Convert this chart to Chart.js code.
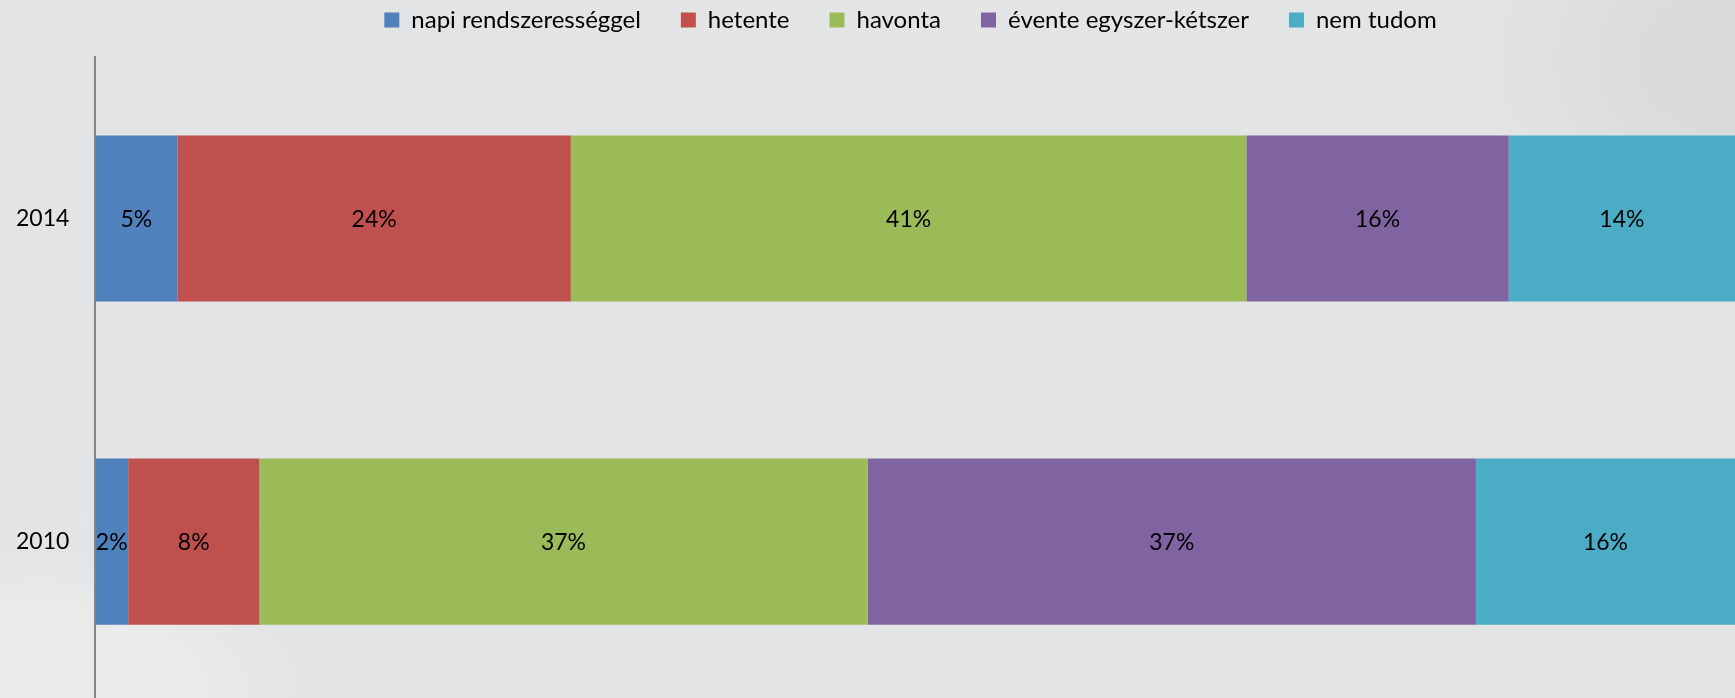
<!DOCTYPE html>
<html>
<head>
<meta charset="utf-8">
<script src="https://cdn.jsdelivr.net/npm/chart.js@4.4.1/dist/chart.umd.min.js"></script>
<style>
    html, body { margin: 0; padding: 0; overflow: hidden; }
    body {
        background:
            radial-gradient(ellipse 260px 150px at 40px 700px, #ebebeb 55%, rgba(235,235,235,0) 100%),
            radial-gradient(ellipse 1000px 160px at 380px 520px, #eaeaea 10%, rgba(234,234,234,0) 30%),
            radial-gradient(ellipse 260px 200px at 1735px 60px, #d9dadc 30%, rgba(217,218,220,0) 100%),
            #e3e4e6;
    }
    #wrap { width: 1735px; height: 743px; position: relative; }
</style>
</head>
<body>
<div id="wrap"><canvas id="gyakorisag"></canvas></div>
<script>
const evek = ['2014', '2010'];
const napi = [5, 2];
const hetente = [24, 8];
const havonta = [41.2, 37.1];
const evente = [16, 37.1];
const nemTudom = [13.8, 15.8];

// szazalek feliratok a savok kozepere
const savFelirat = {
    id: 'savFelirat',
    afterDatasetsDraw(chart) {
        const ctx = chart.ctx;
        ctx.save();
        ctx.font = '23px Lato';
        ctx.fillStyle = '#000';
        ctx.textAlign = 'center';
        ctx.textBaseline = 'middle';
        chart.data.datasets.forEach((ds, i) => {
            chart.getDatasetMeta(i).data.forEach((bar, j) => {
                const p = bar.getProps(['x', 'y', 'base'], true);
                ctx.fillText(Math.round(ds.data[j]) + '%', (p.x + p.base) / 2, p.y + 1);
            });
        });
        ctx.restore();
    }
};

// a jelmagyarazat feljebb es kicsit jobbra, mint az eredetin
const jelmagyarazatHelye = {
    id: 'jelmagyarazatHelye',
    afterLayout(chart) {
        const lg = chart.legend;
        lg.top -= 32;
        lg.left += 48;
        lg.right += 48;
    }
};

const ctx = document.getElementById('gyakorisag').getContext('2d');
const chart = new Chart(ctx, {
    type: 'bar',
    data: {
        labels: evek,
        datasets: [
            { label: 'napi rendszerességgel', data: napi, backgroundColor: '#4f81bd' },
            { label: 'hetente', data: hetente, backgroundColor: '#c0504d' },
            { label: 'havonta', data: havonta, backgroundColor: '#9bbb59' },
            { label: 'évente egyszer-kétszer', data: evente, backgroundColor: '#8064a2' },
            { label: 'nem tudom', data: nemTudom, backgroundColor: '#4bacc6' }
        ]
    },
    options: {
        indexAxis: 'y',
        responsive: true,
        maintainAspectRatio: false,
        animation: false,
        categoryPercentage: 1,
        barPercentage: 0.514,
        layout: { padding: { left: -10, right: 0, top: 0, bottom: 0 } },
        plugins: {
            legend: {
                position: 'top',
                maxHeight: 57,
                labels: {
                    boxWidth: 15,
                    boxHeight: 15,
                    padding: 40,
                    color: '#000',
                    font: { family: 'Lato', size: 24 }
                }
            },
            tooltip: { enabled: false }
        },
        scales: {
            x: {
                stacked: true,
                display: false,
                min: 0,
                max: 100
            },
            y: {
                stacked: true,
                z: 1,
                grid: { display: false, drawTicks: false },
                border: { display: true, color: '#878787', width: 2 },
                ticks: {
                    color: '#000',
                    padding: 26,
                    font: { family: 'Lato', size: 23 }
                }
            }
        }
    },
    plugins: [savFelirat, jelmagyarazatHelye]
});
</script>
</body>
</html>
